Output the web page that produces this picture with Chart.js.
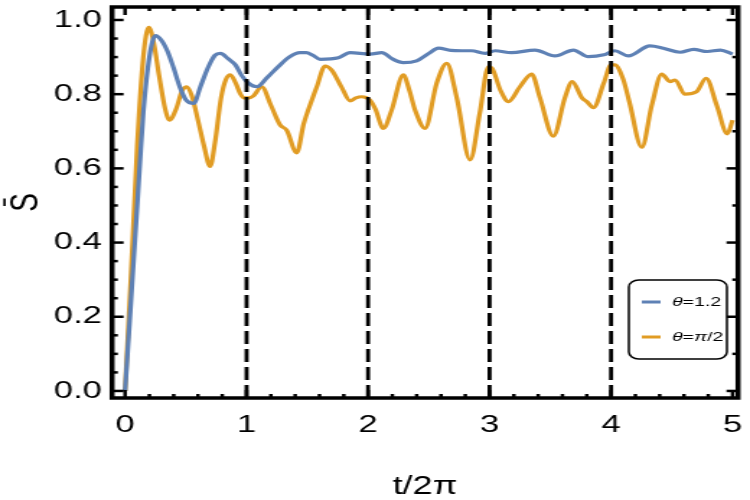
<!DOCTYPE html>
<html>
<head>
<meta charset="utf-8">
<script src="https://cdn.jsdelivr.net/npm/chart.js@4/dist/chart.umd.min.js"></script>
<style>
html, body { margin: 0; padding: 0; background: #fff; overflow: hidden; }
/* the original figure is stretched sideways, so draw narrow and widen */
#wrap { width: 520px; height: 500px; transform: scaleX(1.4423); transform-origin: 0 0; }
canvas { display: block; }
</style>
</head>
<body>
<div id="wrap"><canvas id="c" width="520" height="500"></canvas></div>
<script>
// theta = 1.2
const tBlue = [0, 0.05, 0.1, 0.125, 0.15, 0.2, 0.25, 0.3, 0.35, 0.4, 0.45, 0.5, 0.565, 0.62, 0.68, 0.74, 0.785, 0.85, 0.908, 0.96,
  1.018, 1.084, 1.17, 1.26, 1.35, 1.44, 1.49, 1.545, 1.605, 1.756, 1.852, 2.016, 2.113, 2.2, 2.29, 2.4, 2.5, 2.579, 2.68, 2.771,
  2.85, 2.963, 3.045, 3.18, 3.374, 3.539, 3.69, 3.813, 3.94, 4.03, 4.143, 4.32, 4.43, 4.568, 4.68, 4.79, 4.9, 5.0];
const sBlue = [0, 0.25, 0.5, 0.63, 0.75, 0.9, 0.958, 0.945, 0.915, 0.87, 0.82, 0.785, 0.775, 0.82, 0.87, 0.905, 0.91, 0.895, 0.879, 0.85,
  0.829, 0.82, 0.845, 0.874, 0.9, 0.912, 0.912, 0.905, 0.894, 0.898, 0.912, 0.908, 0.912, 0.895, 0.885, 0.89, 0.91, 0.924, 0.918, 0.917,
  0.917, 0.91, 0.917, 0.912, 0.919, 0.903, 0.919, 0.901, 0.906, 0.917, 0.903, 0.93, 0.924, 0.913, 0.921, 0.915, 0.919, 0.908];

// theta = pi/2
const tOrange = [0, 0.05, 0.1, 0.15, 0.195, 0.235, 0.28, 0.33, 0.365, 0.42, 0.47, 0.51, 0.55, 0.6, 0.65, 0.7, 0.74, 0.79, 0.83, 0.867,
  0.91, 0.95, 0.98, 1.02, 1.055, 1.125, 1.2, 1.276, 1.33, 1.413, 1.47, 1.537, 1.578, 1.646, 1.7, 1.78, 1.852, 1.9, 1.948, 2.016,
  2.06, 2.126, 2.194, 2.29, 2.34, 2.387, 2.469, 2.565, 2.648, 2.73, 2.84, 2.92, 2.99, 3.02, 3.09, 3.155, 3.25, 3.347, 3.415, 3.525,
  3.62, 3.68, 3.76, 3.8, 3.855, 3.94, 4.0, 4.03, 4.1, 4.15, 4.253, 4.335, 4.417, 4.485, 4.526, 4.609, 4.705, 4.782, 4.87, 4.957, 5.0];
const sOrange = [0, 0.32, 0.66, 0.9, 0.98, 0.94, 0.85, 0.76, 0.73, 0.76, 0.81, 0.82, 0.795, 0.73, 0.66, 0.605, 0.67, 0.79, 0.84, 0.852,
  0.83, 0.8, 0.79, 0.79, 0.795, 0.82, 0.77, 0.717, 0.703, 0.642, 0.72, 0.784, 0.82, 0.876, 0.865, 0.82, 0.782, 0.79, 0.793, 0.784,
  0.76, 0.708, 0.757, 0.852, 0.81, 0.757, 0.708, 0.83, 0.883, 0.79, 0.623, 0.75, 0.874, 0.87, 0.81, 0.78, 0.82, 0.854, 0.79, 0.687,
  0.79, 0.834, 0.79, 0.78, 0.764, 0.83, 0.879, 0.879, 0.84, 0.78, 0.657, 0.77, 0.854, 0.834, 0.838, 0.8, 0.807, 0.843, 0.77, 0.693, 0.73];

const seriesNames = ['θ=1.2', 'θ=π/2'];
const seriesColors = ['#5E81B5', '#E19C24'];
const xTicks = [0, 1, 2, 3, 4, 5];
const yTicks = [0, 0.2, 0.4, 0.6, 0.8, 1.0];
const xMinor = [0.2, 0.4, 0.6, 0.8];   // within each unit
const yMinorStep = 0.05;
const dashedAt = [1, 2, 3, 4];

const FONT = '"Liberation Sans", Arial, sans-serif';

function toPoints(xs, ys){ return xs.map((x, i) => ({ x, y: ys[i] })); }

const framePlugin = {
  id: 'frame',
  afterDatasetsDraw(chart){
    const { ctx, chartArea: a, scales: { x, y } } = chart;
    ctx.save();
    ctx.strokeStyle = '#000';

    // dashed period markers
    ctx.lineWidth = 2.8;
    ctx.setLineDash([13, 5]);
    dashedAt.forEach(v => {
      const px = x.getPixelForValue(v);
      ctx.beginPath(); ctx.moveTo(px, a.bottom); ctx.lineTo(px, a.top); ctx.stroke();
    });
    ctx.setLineDash([]);

    // ticks, pointing inwards on all four sides
    ctx.lineWidth = 2.5;
    const tick = (x0, y0, x1, y1) => { ctx.beginPath(); ctx.moveTo(x0, y0); ctx.lineTo(x1, y1); ctx.stroke(); };
    for (let i = 0; i < xTicks.length; i++){
      const v = xTicks[i];
      const px = x.getPixelForValue(v);
      tick(px, a.bottom, px, a.bottom - 8);
      tick(px, a.top, px, a.top + 8);
      xMinor.forEach(m => {
        if (v + m > x.max) return;
        const mx = x.getPixelForValue(v + m);
        tick(mx, a.bottom, mx, a.bottom - 4);
        tick(mx, a.top, mx, a.top + 4);
      });
    }
    for (let k = 0; k <= 20; k++){
      const v = k * yMinorStep;
      const py = y.getPixelForValue(v);
      const major = k % 4 === 0;
      tick(a.left, py, a.left + (major ? 8 : 4), py);
      if (k % 2 === 0) tick(a.right, py, a.right - (major ? 8 : 4), py);
    }

    // frame
    ctx.lineWidth = 3.5;
    ctx.strokeRect(a.left, a.top, a.right - a.left, a.bottom - a.top);

    // legend box
    const bx = 436, by = 280, bw = 68, bh = 79;
    ctx.fillStyle = '#fff';
    ctx.lineWidth = 1.5;
    ctx.beginPath(); ctx.roundRect(bx, by, bw, bh, 7); ctx.fill(); ctx.stroke();
    const rows = [302, 337];
    chart.data.datasets.forEach((ds, i) => {
      const ly = rows[i];
      ctx.strokeStyle = ds.borderColor;
      ctx.lineWidth = 3;
      ctx.beginPath(); ctx.moveTo(445, ly); ctx.lineTo(458, ly); ctx.stroke();
      let tx = 466;
      ctx.fillStyle = '#000';
      ctx.textBaseline = 'middle';
      for (const ch of ds.label){
        const greek = /[θπ]/.test(ch);
        ctx.font = (greek ? 'italic ' : '') + '13.5px ' + FONT;
        ctx.fillText(ch, tx, ly);
        tx += ctx.measureText(ch).width;
      }
    });
    ctx.restore();
  }
};

new Chart(document.getElementById('c'), {
  type: 'line',
  data: {
    datasets: [
      { label: seriesNames[0], data: toPoints(tBlue, sBlue), borderColor: seriesColors[0], borderWidth: 3.2,
        pointRadius: 0, cubicInterpolationMode: 'monotone', fill: false },
      { label: seriesNames[1], data: toPoints(tOrange, sOrange), borderColor: seriesColors[1], borderWidth: 3.2,
        pointRadius: 0, cubicInterpolationMode: 'monotone', fill: false }
    ]
  },
  options: {
    responsive: false,
    animation: false,
    layout: { padding: { top: 7, right: 8.3, left: 0, bottom: 0 } },
    plugins: { legend: { display: false }, tooltip: { enabled: false } },
    scales: {
      x: {
        type: 'linear', min: -0.107, max: 5.045,
        grid: { display: false, drawTicks: false }, border: { display: false },
        afterBuildTicks: s => { s.ticks = xTicks.map(v => ({ value: v })); },
        afterFit: s => { s.height = 102; s.paddingLeft = 0; s.paddingRight = 0; },
        ticks: { color: '#000', font: { family: FONT, size: 24 }, padding: 13, maxRotation: 0,
          callback: v => String(v) },
        title: { display: true, text: 't/2π', color: '#000', font: { family: FONT, size: 25 },
          padding: { top: 0, bottom: -2 } }
      },
      y: {
        type: 'linear', min: -0.019, max: 1.035,
        grid: { display: false, drawTicks: false }, border: { display: false },
        afterBuildTicks: s => { s.ticks = yTicks.map(v => ({ value: v })); },
        afterFit: s => { s.width = 77.7; s.paddingTop = 0; s.paddingBottom = 0; },
        ticks: { color: '#000', font: { family: FONT, size: 24 }, padding: 7,
          callback: v => v.toFixed(1) },
        title: { display: true, text: 'S\u0304', color: '#000', font: { family: FONT, size: 28 },
          padding: { top: 1, bottom: 0 } }
      }
    }
  },
  plugins: [framePlugin]
});
</script>
</body>
</html>
